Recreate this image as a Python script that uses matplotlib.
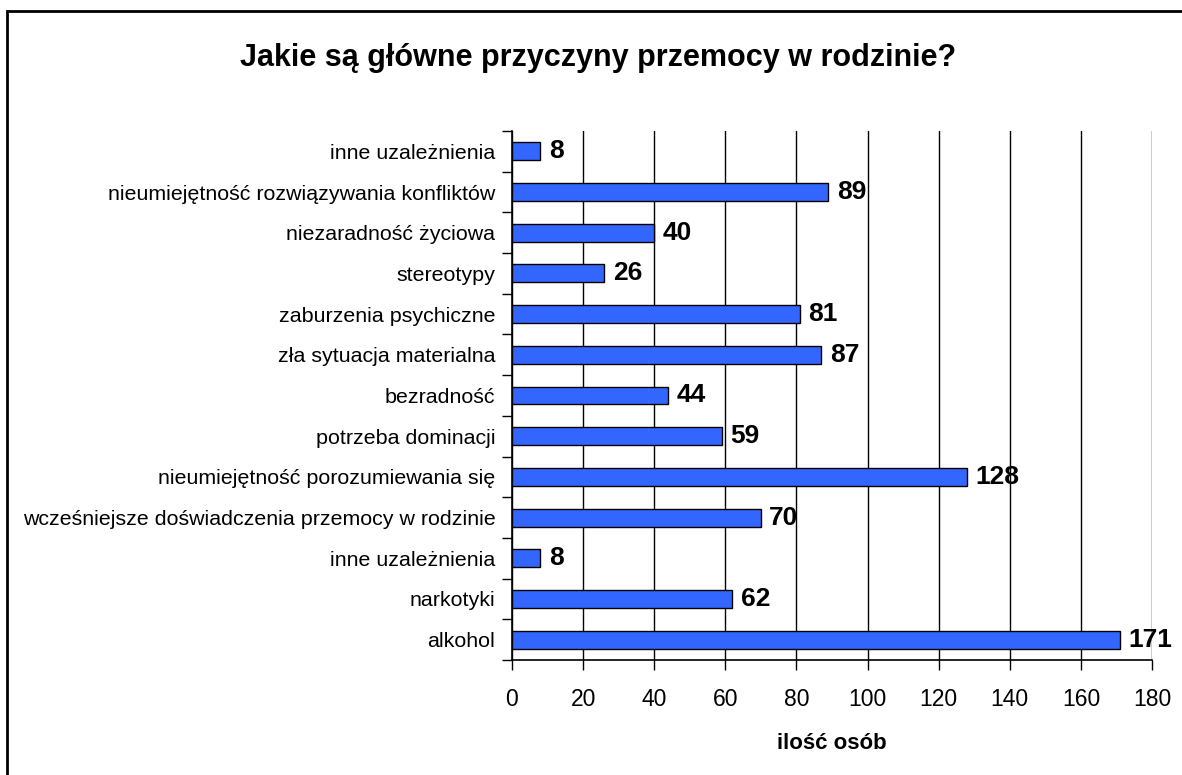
import numpy as np
import matplotlib
matplotlib.use("Agg")
from matplotlib import pyplot as plt
from matplotlib.patches import Rectangle

plt.rcParams['font.family'] = ['Liberation Sans', 'DejaVu Sans']

# categories listed from bottom to top
categories = [
  "alkohol",
  "narkotyki",
  "inne uzależnienia",
  "wcześniejsze doświadczenia przemocy w rodzinie",
  "nieumiejętność porozumiewania się",
  "potrzeba dominacji",
  "bezradność",
  "zła sytuacja materialna",
  "zaburzenia psychiczne",
  "stereotypy",
  "niezaradność życiowa",
  "nieumiejętność rozwiązywania konfliktów",
  "inne uzależnienia",
]
counts = [171, 62, 8, 70, 128, 59, 44, 87, 81, 26, 40, 89, 8]
x_ticks = [0, 20, 40, 60, 80, 100, 120, 140, 160, 180]

W, H = 1182, 775
fig = plt.figure(figsize=(W / 100, H / 100), dpi=100)

# outer frame of the chart area (only top and left edges are visible)
fig.patches.append(Rectangle((7 / W, -0.1), 1.2, 1 - 10.5 / H + 0.1,
                             transform=fig.transFigure, fill=False,
                             edgecolor="black", linewidth=2))

ax = fig.add_axes([512 / W, 1 - 660 / H, 640 / W, 529 / H])

pos = np.arange(len(categories))
ax.barh(pos, counts, height=0.44, color="#3366FF", edgecolor="black",
        linewidth=1, zorder=3)

for p, v in zip(pos, counts):
  ax.annotate(str(v), (v, p), xytext=(6, 0), textcoords="offset points",
              va="center", ha="left", fontsize=19, fontweight="bold",
              zorder=4)

ax.set_xlim(0, 180)
ax.set_ylim(-0.5, len(categories) - 0.5)
ax.set_xticks(x_ticks)
ax.set_yticks(pos)
ax.set_yticklabels(categories, fontsize=15.4)
ax.set_yticks(np.arange(len(categories) + 1) - 0.5, minor=True)
ax.tick_params(axis="y", which="major", length=0, pad=12)
ax.tick_params(axis="y", which="minor", length=7, width=1, direction="out")
ax.tick_params(axis="x", which="major", length=7, width=1, direction="out",
               labelsize=16.5, pad=13)

ax.xaxis.grid(True, color="black", linewidth=1, zorder=0)
ax.set_axisbelow(True)
for side in ["top", "right"]:
  ax.spines[side].set_visible(False)
for side in ["left", "bottom"]:
  ax.spines[side].set_linewidth(1.2)

ax.set_xlabel("ilość osób", fontsize=16, fontweight="bold", labelpad=16)

fig.text(598 / W, 1 - 58 / H, "Jakie są główne przyczyny przemocy w rodzinie?",
         ha="center", va="center", fontsize=22, fontweight="bold")

fig.savefig("out.png", dpi=100)
